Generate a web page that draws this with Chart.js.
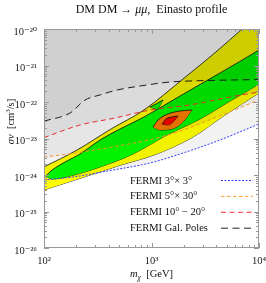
<!DOCTYPE html>
<html>
<head>
<meta charset="utf-8">
<script src="https://cdn.jsdelivr.net/npm/chart.js@4"></script>
<style>
  html, body { margin: 0; padding: 0; background: #fff; }
  canvas { display: block; }
</style>
</head>
<body>
<canvas id="myChart" width="266" height="283"></canvas>
<script>
// axis ticks
const massTicks = [1e2, 1e3, 1e4];
const svTicks = [1e-26, 1e-25, 1e-24, 1e-23, 1e-22, 1e-21, 1e-20];

// FERMI limits, m_chi [GeV] vs sigma v [cm^3/s]
const fermi3x3Mass = [100, 186, 438, 968, 1963, 4337, 10000];
const fermi3x3Sv = [7.3e-25, 8.8e-25, 1.37e-24, 2.13e-24, 4.0e-24, 9.1e-24, 2.5e-23];
const fermi5x30Mass = [100, 175, 438, 1033, 1963, 4068, 10000];
const fermi5x30Sv = [3.1e-24, 3.8e-24, 5.9e-24, 9.7e-24, 1.7e-23, 3.9e-23, 1.14e-22];
const fermi10to20Mass = [100, 216, 458, 968, 2280, 5374, 10000];
const fermi10to20Sv = [1.06e-23, 2.34e-23, 3.65e-23, 6.0e-23, 8.3e-23, 1.37e-22, 1.88e-22];
const fermiPolesMass = [100, 175, 241, 332, 478, 782, 1486, 2280, 10000];
const fermiPolesSv = [3.0e-23, 5.0e-23, 1.13e-22, 1.56e-22, 2.13e-22, 2.74e-22, 3.53e-22, 3.76e-22, 4.13e-22];

// favoured regions (upper / lower contour edges)
const yellowUpMass = [100, 203, 420, 851, 1963, 4068, 6950, 10660];
const yellowUpSv = [1.66e-24, 4.84e-24, 1.82e-23, 6.04e-23, 4.27e-22, 2.49e-21, 1e-20, 3.1e-20];
const yellowLowMass = [100, 236, 520, 1055, 2432, 4829, 10000, 10660];
const yellowLowSv = [3.9e-25, 8.8e-25, 1.88e-24, 3.53e-24, 1.1e-23, 4.41e-23, 1.77e-22, 2.0e-22];
const greenUpMass = [104, 119, 157, 216, 332, 509, 851, 1841, 4337, 10000, 10660];
const greenUpSv = [9.4e-25, 1.37e-24, 2.27e-24, 3.76e-24, 9.1e-24, 1.82e-23, 3.88e-23, 1.46e-22, 6.24e-22, 2.66e-21, 3.0e-21];
const greenLowMass = [104, 119, 175, 332, 673, 1394, 2826, 5374, 10000, 10660];
const greenLowSv = [9.4e-25, 7.8e-25, 9.4e-25, 1.66e-24, 3.76e-24, 1.25e-23, 3.42e-23, 1.06e-22, 3.11e-22, 3.53e-22];
const islandUpMass = [968, 1101, 1279];
const islandUpSv = [7.3e-23, 8.8e-23, 1.14e-22];
const islandLowMass = [968, 1125, 1279];
const islandLowSv = [7.3e-23, 6.4e-23, 1.14e-22];
const orangeUpMass = [1033, 1150, 1424, 1841, 2381];
const orangeUpSv = [2.07e-23, 3.21e-23, 4.69e-23, 5.66e-23, 6.04e-23];
const orangeLowMass = [1033, 1200, 1551, 1963, 2381];
const orangeLowSv = [2.07e-23, 1.71e-23, 1.82e-23, 2.83e-23, 6.04e-23];
const redUpMass = [1252, 1364, 1551, 1764];
const redUpSv = [2.49e-23, 3.42e-23, 3.88e-23, 4.13e-23];
const redLowMass = [1252, 1424, 1620, 1764];
const redLowSv = [2.49e-23, 2.34e-23, 3.01e-23, 4.13e-23];

const SERIF = '"Liberation Serif", "DejaVu Serif", serif';
const sup = {'-': '⁻', '0': '⁰', '1': '¹', '2': '²', '3': '³', '4': '⁴', '5': '⁵', '6': '⁶', '7': '⁷', '8': '⁸', '9': '⁹'};
const pow10 = v => '10' + String(Math.round(Math.log10(v))).split('').map(c => sup[c]).join('');
const pts = (xs, ys) => xs.map((x, i) => ({x: x, y: ys[i]}));

function limit(label, xs, ys, color, dash) {
  return {
    label: label, data: pts(xs, ys), borderColor: color, borderDash: dash, borderWidth: 1,
    fill: 'end', backgroundColor: 'rgba(0,0,0,0.05)', order: 1
  };
}
function edge(xs, ys, fillColor, order) {
  return {
    data: pts(xs, ys), borderColor: '#111', borderWidth: 0.8,
    fill: fillColor ? '+1' : false, backgroundColor: fillColor || 'transparent', order: order
  };
}

const datasets = [
  limit('FERMI 3°× 3°', fermi3x3Mass, fermi3x3Sv, '#3a3aff', [2, 1.5]),
  limit('FERMI 5°× 30°', fermi5x30Mass, fermi5x30Sv, '#ff9a33', [3.5, 2.5]),
  limit('FERMI 10° − 20°', fermi10to20Mass, fermi10to20Sv, '#ff3333', [5, 3.5]),
  limit('FERMI Gal. Poles', fermiPolesMass, fermiPolesSv, '#222222', [7, 4.5]),
  edge(yellowUpMass, yellowUpSv, '#ffff00', 10),
  edge(yellowLowMass, yellowLowSv, null, 10),
  edge(greenUpMass, greenUpSv, '#00ff00', 9),
  edge(greenLowMass, greenLowSv, null, 9),
  edge(islandUpMass, islandUpSv, '#00ff00', 8),
  edge(islandLowMass, islandLowSv, null, 8),
  edge(orangeUpMass, orangeUpSv, '#ff8000', 8),
  edge(orangeLowMass, orangeLowSv, null, 8),
  edge(redUpMass, redUpSv, '#ff0000', 7),
  edge(redLowMass, redLowSv, null, 7),
];

// text made of pieces with their own font / vertical shift
function drawRich(ctx, pieces, cx, baseline) {
  let w = 0;
  pieces.forEach(p => { ctx.font = p.font; w += ctx.measureText(p.t).width; });
  let x = cx - w / 2;
  pieces.forEach(p => {
    ctx.font = p.font;
    ctx.fillText(p.t, x, baseline + (p.dy || 0));
    x += ctx.measureText(p.t).width;
  });
}

const frameAndText = {
  id: 'frameAndText',
  afterDraw(chart) {
    const {ctx, chartArea: a, scales: {x, y}} = chart;
    ctx.save();

    // frame with inward ticks on all sides
    ctx.strokeStyle = '#999';
    ctx.lineWidth = 1;
    ctx.strokeRect(a.left + 0.5, a.top + 0.5, a.right - a.left - 1, a.bottom - a.top - 1);
    ctx.beginPath();
    for (let e = 2; e <= 4; e++) {
      for (let k = 1; k <= 9; k++) {
        const v = k * Math.pow(10, e);
        if (v > 1e4) break;
        const px = Math.round(x.getPixelForValue(v)) + 0.5;
        const len = k === 1 ? 5 : 3;
        ctx.moveTo(px, a.bottom); ctx.lineTo(px, a.bottom - len);
        ctx.moveTo(px, a.top); ctx.lineTo(px, a.top + len);
      }
    }
    for (let e = -26; e <= -20; e++) {
      for (let k = 1; k <= 9; k++) {
        const v = k * Math.pow(10, e);
        if (e === -20 && k > 1) break;
        const py = Math.round(y.getPixelForValue(v)) + 0.5;
        const len = k === 1 ? 5 : 3;
        ctx.moveTo(a.left, py); ctx.lineTo(a.left + len, py);
        ctx.moveTo(a.right, py); ctx.lineTo(a.right - len, py);
      }
    }
    ctx.stroke();

    ctx.fillStyle = '#111';
    ctx.textBaseline = 'alphabetic';
    ctx.textAlign = 'left';

    // title
    drawRich(ctx, [
      {t: 'DM DM → ', font: '12px ' + SERIF},
      {t: 'μμ', font: 'italic 12px ' + SERIF},
      {t: ',  Einasto profile', font: '12px ' + SERIF},
    ], (a.left + a.right) / 2, 13);

    // x title
    drawRich(ctx, [
      {t: 'm', font: 'italic 10.5px ' + SERIF},
      {t: 'χ', font: 'italic 7.5px ' + SERIF, dy: 2.5},
      {t: '  [GeV]', font: '10.5px ' + SERIF},
    ], (a.left + a.right) / 2, 277);

    // y title
    ctx.save();
    ctx.translate(13.5, 121.5);
    ctx.rotate(-Math.PI / 2);
    drawRich(ctx, [
      {t: 'σv', font: 'italic 10.5px ' + SERIF},
      {t: '  [cm', font: '10.5px ' + SERIF},
      {t: '3', font: '7px ' + SERIF, dy: -4},
      {t: '/s]', font: '10.5px ' + SERIF},
    ], 0, 0);
    ctx.restore();

    // legend, labels and line styles from the limit datasets
    const rows = chart.data.datasets.filter(d => d.label);
    rows.forEach((d, i) => {
      const cy = 180 + i * 15.9;
      ctx.font = '10.5px ' + SERIF;
      ctx.fillStyle = '#111';
      ctx.fillText(d.label, 130, cy + 3.5);
      ctx.beginPath();
      ctx.setLineDash(d.borderDash);
      ctx.strokeStyle = d.borderColor;
      ctx.lineWidth = 1;
      ctx.moveTo(221, cy + 0.5);
      ctx.lineTo(253, cy + 0.5);
      ctx.stroke();
    });
    ctx.setLineDash([]);
    ctx.restore();
  }
};

const tickFont = {family: SERIF, size: 10.5};

new Chart(document.getElementById('myChart'), {
  type: 'line',
  data: {datasets: datasets},
  options: {
    responsive: false,
    animation: false,
    layout: {padding: {top: 29, right: 7, left: 0, bottom: 0}},
    elements: {point: {radius: 0}, line: {cubicInterpolationMode: 'monotone'}},
    plugins: {legend: {display: false}, tooltip: {enabled: false}, title: {display: false}},
    scales: {
      x: {
        type: 'logarithmic', min: 1e2, max: 1e4,
        grid: {display: false, drawTicks: false}, border: {display: false},
        afterBuildTicks: s => { s.ticks = massTicks.map(v => ({value: v})); },
        afterFit: s => { s.height = 35; s.paddingLeft = 0; s.paddingRight = 0; },
        ticks: {autoSkip: false, maxRotation: 0, padding: 7, color: '#222', font: tickFont, callback: v => pow10(v)}
      },
      y: {
        type: 'logarithmic', min: 1e-26, max: 1e-20,
        grid: {display: false, drawTicks: false}, border: {display: false},
        afterBuildTicks: s => { s.ticks = svTicks.map(v => ({value: v})); },
        afterFit: s => { s.width = 44; s.paddingTop = 0; s.paddingBottom = 0; },
        ticks: {autoSkip: false, padding: 7, labelOffset: 3, color: '#222', font: tickFont, callback: v => pow10(v)}
      }
    }
  },
  plugins: [frameAndText]
});
</script>
</body>
</html>
